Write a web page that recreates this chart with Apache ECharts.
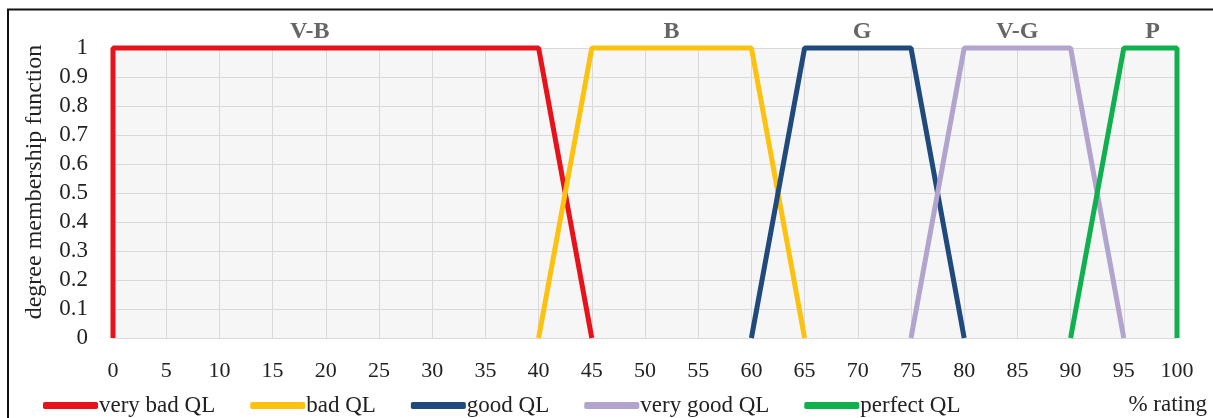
<!DOCTYPE html>
<html>
<head>
<meta charset="utf-8">
<script src="https://cdn.jsdelivr.net/npm/echarts@6/dist/echarts.min.js"></script>
<style>
  html, body { margin: 0; padding: 0; background: #fff; }
  #chart { width: 1213px; height: 418px; }
</style>
</head>
<body>
<div id="chart"></div>
<script>
const seriesNames = ["very bad QL", "bad QL", "good QL", "very good QL", "perfect QL"];
const seriesColors = ["#e8121b", "#fdc20f", "#1f4a7b", "#b2a4cc", "#10b04f"];

const veryBadX = [0, 0, 40, 45];
const veryBadY = [0, 1, 1, 0];
const badX = [40, 45, 60, 65];
const badY = [0, 1, 1, 0];
const goodX = [60, 65, 75, 80];
const goodY = [0, 1, 1, 0];
const veryGoodX = [75, 80, 90, 95];
const veryGoodY = [0, 1, 1, 0];
const perfectX = [90, 95, 100, 100];
const perfectY = [0, 1, 1, 0];

const tagNames = ["V-B", "B", "G", "V-G", "P"];
const tagX = [18.5, 52.5, 70.4, 85, 97.7];

const allX = [veryBadX, badX, goodX, veryGoodX, perfectX];
const allY = [veryBadY, badY, goodY, veryGoodY, perfectY];

const font = "'Liberation Serif', 'DejaVu Serif', serif";

const series = seriesNames.map((name, i) => ({
  name: name,
  type: "line",
  data: allX[i].map((x, j) => [x, allY[i][j]]),
  showSymbol: false,
  symbol: "none",
  lineStyle: { color: seriesColors[i], width: 5 },
  itemStyle: { color: seriesColors[i] },
  clip: false,
}));

series.push({
  name: "tags",
  type: "scatter",
  silent: true,
  symbolSize: 0,
  data: tagX.map((x, i) => ({ value: [x, 1], name: tagNames[i] })),
  label: {
    show: true,
    position: "top",
    distance: 4,
    formatter: (p) => p.name,
    fontFamily: font,
    fontSize: 24,
    fontWeight: "bold",
    color: "#404040",
  },
});

const chart = echarts.init(document.getElementById("chart"));
chart.setOption({
  animation: false,
  backgroundColor: "#fff",
  textStyle: { fontFamily: font },
  grid: {
    left: 113,
    right: 36,
    top: 48,
    bottom: 80,
    show: true,
    backgroundColor: "#f6f6f6",
    borderWidth: 0,
  },
  xAxis: {
    type: "value",
    min: 0,
    max: 100,
    interval: 5,
    axisLine: { show: true, lineStyle: { color: "#d9d9d9", width: 1 } },
    axisTick: { show: false },
    splitLine: { show: true, lineStyle: { color: "#d9d9d9", width: 1 } },
    axisLabel: { margin: 22, fontSize: 22, color: "#222", fontFamily: font },
  },
  yAxis: {
    type: "value",
    min: 0,
    max: 1,
    interval: 0.1,
    axisLine: { show: false },
    axisTick: { show: false },
    splitLine: { show: true, lineStyle: { color: "#d9d9d9", width: 1 } },
    axisLabel: {
      margin: 25,
      fontSize: 23,
      color: "#222",
      fontFamily: font,
      formatter: (v) => String(Math.round(v * 10) / 10),
    },
  },
  legend: {
    data: seriesNames,
    left: 38,
    top: 389,
    icon: "roundRect",
    itemWidth: 55,
    itemHeight: 7,
    itemGap: 35,
    textStyle: { fontSize: 23, color: "#222", fontFamily: font, padding: [0, 0, 0, -4] },
  },
  graphic: [
    {
      type: "text",
      x: 35,
      y: 182,
      rotation: Math.PI / 2,
      style: {
        text: "degree membership function",
        fontSize: 24,
        fill: "#222",
        fontFamily: font,
        align: "center",
        verticalAlign: "middle",
      },
    },
    {
      type: "text",
      right: 6,
      top: 393,
      style: { text: "% rating", fontSize: 23, fill: "#222", fontFamily: font },
    },
    {
      type: "polyline",
      shape: { points: [[8, 418], [8, 9.5], [1213, 9.5]] },
      style: { stroke: "#111", lineWidth: 2, fill: null },
    },
  ],
  series: series,
});
</script>
</body>
</html>
